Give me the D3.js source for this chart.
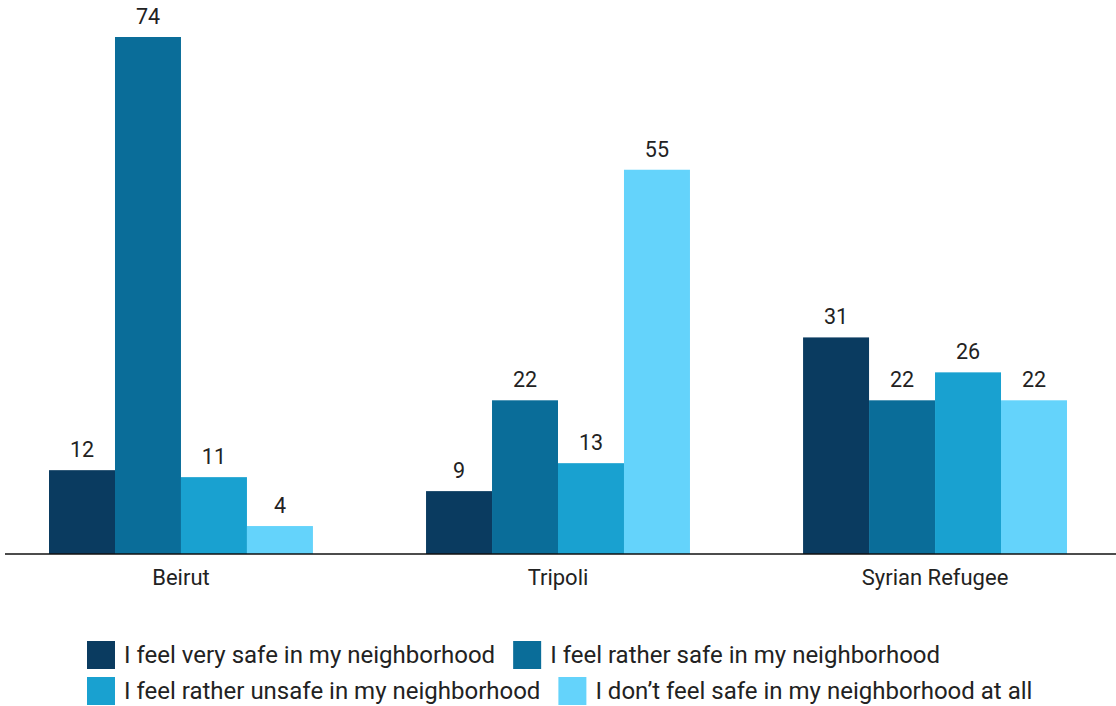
<!DOCTYPE html>
<html>
<head>
<meta charset="utf-8">
<script src="https://cdn.jsdelivr.net/npm/d3@7"></script>
<style>
  html, body { margin: 0; padding: 0; background: #fff; }
  svg { display: block; font-family: Roboto, "Noto Sans", sans-serif; }
</style>
</head>
<body>
<svg id="chart" width="1116" height="706"></svg>
<script>
// Survey answers on perceived neighborhood safety (%)
const categories = ["Beirut", "Tripoli", "Syrian Refugee"];
const seriesNames = [
  "I feel very safe in my neighborhood",
  "I feel rather safe in my neighborhood",
  "I feel rather unsafe in my neighborhood",
  "I don\u2019t feel safe in my neighborhood at all"
];
const verySafe    = [12, 9, 31];
const ratherSafe  = [74, 22, 22];
const ratherUnsafe = [11, 13, 26];
const notSafe     = [4, 55, 22];
const seriesColors = ["#0a3b60", "#0a6d99", "#19a1d0", "#64d3fb"];

const seriesValues = [verySafe, ratherSafe, ratherUnsafe, notSafe];
const rows = categories.map((c, i) => ({
  category: c,
  values: seriesNames.map((s, j) => ({ key: s, value: seriesValues[j][i], color: seriesColors[j] }))
}));

const svg = d3.select("#chart");
const W = 1116;
const baseY = 554;

const x0 = d3.scaleBand().domain(categories).range([0, W]).paddingInner(0.3).paddingOuter(0.13);
const x1 = d3.scaleBand().domain(seriesNames).range([0, x0.bandwidth()]).padding(0);
const y = d3.scaleLinear().domain([0, 74]).range([baseY, 37]);

const groups = svg.append("g").selectAll("g")
  .data(rows)
  .join("g")
  .attr("transform", d => `translate(${x0(d.category)},0)`);

groups.selectAll("rect")
  .data(d => d.values)
  .join("rect")
  .attr("x", d => x1(d.key))
  .attr("y", d => y(d.value))
  .attr("width", x1.bandwidth())
  .attr("height", d => baseY - y(d.value))
  .attr("fill", d => d.color);

groups.selectAll("text.value")
  .data(d => d.values)
  .join("text")
  .attr("class", "value")
  .attr("x", d => x1(d.key) + x1.bandwidth() / 2)
  .attr("y", d => y(d.value) - 13)
  .attr("text-anchor", "middle")
  .attr("font-size", 21.5)
  .attr("fill", "#222")
  .text(d => d.value);

// category axis
const axis = svg.append("g")
  .attr("transform", `translate(0,${baseY})`)
  .call(d3.axisBottom(x0).tickSize(0).tickPadding(0));
axis.select(".domain").remove();
axis.append("line")
  .attr("x1", 5).attr("x2", W)
  .attr("y1", 0).attr("y2", 0)
  .attr("stroke", "#111").attr("stroke-width", 1.6);
axis.selectAll(".tick text")
  .attr("dy", null)
  .attr("y", 31)
  .attr("font-size", 22)
  .attr("font-family", "Roboto, sans-serif")
  .attr("fill", "#222");

// legend, two rows, left aligned
const legendRows = [[0, 1], [2, 3]];
const legendX = 87, rowY = [641, 677], box = 28;
const legend = svg.append("g");
legendRows.forEach((row, r) => {
  let cx = legendX;
  row.forEach(j => {
    const g = legend.append("g").attr("transform", `translate(${cx},${rowY[r]})`);
    g.append("rect").attr("width", box).attr("height", box).attr("fill", seriesColors[j]);
    const t = g.append("text")
      .attr("x", box + 9)
      .attr("y", box / 2)
      .attr("dy", "0.35em")
      .attr("font-size", 24)
      .attr("fill", "#222")
      .text(seriesNames[j]);
    cx += box + 9 + t.node().getComputedTextLength() + 18;
  });
});
</script>
</body>
</html>
